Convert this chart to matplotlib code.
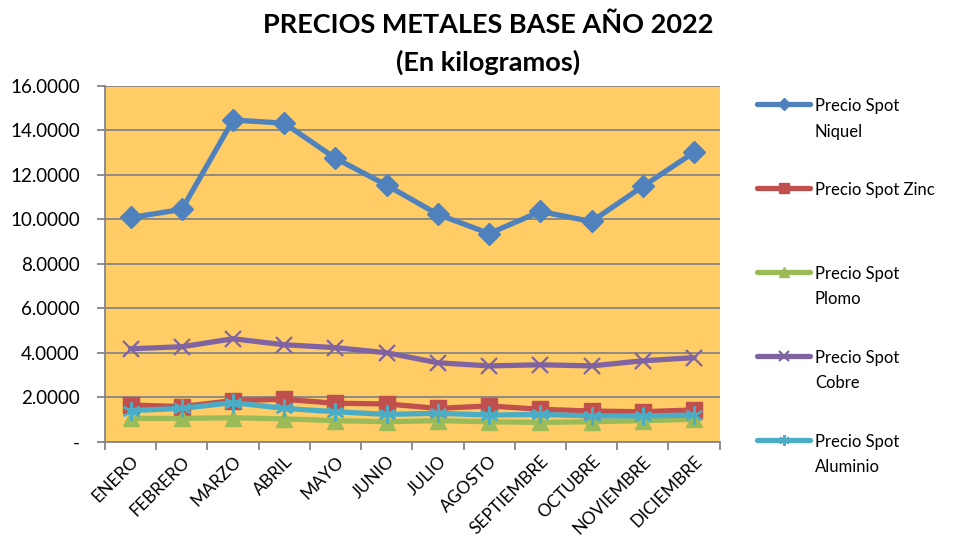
import matplotlib
matplotlib.use("Agg")
import matplotlib.pyplot as plt
from matplotlib.lines import Line2D
from matplotlib.ticker import FuncFormatter, FixedLocator

plt.rcParams['font.family'] = ['Lato', 'DejaVu Sans']

months = ["ENERO", "FEBRERO", "MARZO", "ABRIL", "MAYO", "JUNIO", "JULIO",
          "AGOSTO", "SEPTIEMBRE", "OCTUBRE", "NOVIEMBRE", "DICIEMBRE"]
niquel = [10.09, 10.45, 14.47, 14.33, 12.75, 11.54, 10.23, 9.37, 10.36, 9.91, 11.49, 13.02]
zinc = [1.66, 1.59, 1.86, 1.92, 1.74, 1.71, 1.51, 1.62, 1.47, 1.39, 1.36, 1.44]
plomo = [1.06, 1.06, 1.09, 1.04, 0.96, 0.91, 0.96, 0.91, 0.88, 0.91, 0.96, 1.02]
cobre = [4.19, 4.28, 4.64, 4.37, 4.24, 4.01, 3.56, 3.42, 3.47, 3.42, 3.65, 3.79]
aluminio = [1.41, 1.51, 1.77, 1.51, 1.36, 1.24, 1.29, 1.21, 1.24, 1.17, 1.17, 1.21]

labels = ["Precio Spot\nNiquel", "Precio Spot Zinc", "Precio Spot\nPlomo",
          "Precio Spot\nCobre", "Precio Spot\nAluminio"]
colors = ["#4F81BD", "#C0504D", "#9BBB59", "#8064A2", "#4BACC6"]

fig = plt.figure(figsize=(9.57, 5.46), dpi=100)
ax = fig.add_axes([0.1097, 0.1905, 0.6423, 0.652])
ax.set_facecolor("#FFCC66")

x = list(range(len(months)))
styles = [
    dict(marker="D", ms=11, mec=colors[0], mfc=colors[0]),
    dict(marker="s", ms=11, mec=colors[1], mfc=colors[1]),
    dict(marker="^", ms=12, mec=colors[2], mfc=colors[2]),
    dict(marker="x", ms=12, mew=1.6, mec=colors[3]),
    dict(marker=(6, 2, 0), ms=13, mew=1.6, mec=colors[4]),
]
order = [0, 3, 1, 2, 4]
series = [niquel, zinc, plomo, cobre, aluminio]
for i in order:
    ax.plot(x, series[i], color=colors[i], lw=3.8, solid_joinstyle="round",
            solid_capstyle="round", zorder=3 + (1 if i == 4 else 0), **styles[i])

ax.set_xlim(-0.5, 11.5)
ax.set_ylim(0, 16)
ax.set_yticks([0, 2, 4, 6, 8, 10, 12, 14, 16])
ax.yaxis.set_major_formatter(FuncFormatter(lambda v, p: "-" if v == 0 else f"{v:.4f}"))
ax.grid(axis="y", color="#868686", lw=1.3, zorder=1)
ax.set_axisbelow(True)

ax.set_xticks(x)
ax.set_xticklabels(months, rotation=45, ha="right", rotation_mode="anchor")
ax.xaxis.set_minor_locator(FixedLocator([i - 0.5 for i in range(13)]))
ax.tick_params(axis="x", which="major", length=0, pad=8, labelsize=12.5)
ax.tick_params(axis="x", which="minor", length=6, color="#868686", width=1.3)
ax.tick_params(axis="y", length=6, color="#868686", width=1.3, labelsize=13.5, pad=12)

for s in ["top", "right"]:
    ax.spines[s].set_visible(False)
for s in ["left", "bottom"]:
    ax.spines[s].set_color("#868686")
    ax.spines[s].set_linewidth(1.3)

fig.text(0.51, 0.954, "PRECIOS METALES BASE AÑO 2022", ha="center", va="center",
         fontsize=19.5, fontweight="bold")
fig.text(0.51, 0.886, "(En kilogramos)", ha="center", va="center",
         fontsize=19.5, fontweight="bold")

# legend
W, H = 957, 546
ys = [104, 188, 272, 356, 440]
for i, yy in enumerate(ys):
    yf = 1 - yy / H
    st = dict(styles[i])
    st["ms"] = st["ms"] * 0.6
    fig.add_artist(Line2D([757 / W, 810 / W], [yf, yf], color=colors[i], lw=3.8,
                          solid_capstyle="round", transform=fig.transFigure,
                          markevery=[], **{k: v for k, v in st.items() if k != "marker"}))
    fig.add_artist(Line2D([783.5 / W], [yf], color=colors[i], lw=0, transform=fig.transFigure,
                          **st))
    for j, line in enumerate(labels[i].split("\n")):
        fig.text(815 / W, yf - j * 26 / H, line, ha="left", va="center_baseline",
                 fontsize=12)

fig.savefig("out.png", dpi=100)
